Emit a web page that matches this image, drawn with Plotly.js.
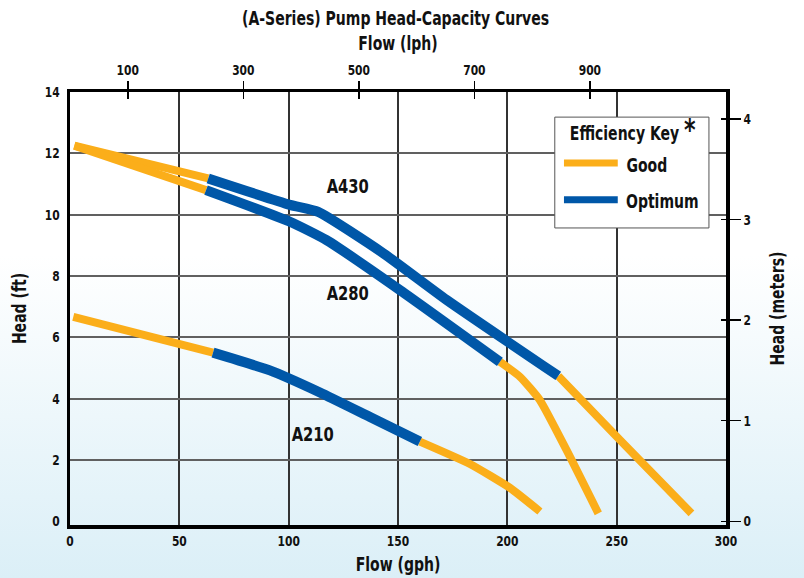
<!DOCTYPE html>
<html>
<head>
<meta charset="utf-8">
<script src="https://cdn.plot.ly/plotly-3.0.1.min.js"></script>
<style>
  html, body { margin: 0; padding: 0; }
  body {
    width: 804px; height: 578px; overflow: hidden;
    background: linear-gradient(to bottom, #ffffff 0%, #ffffff 44%, #dbeff7 100%);
  }
  #chart { width: 804px; height: 578px; }
</style>
</head>
<body>
<div id="chart"></div>
<script>
// ---- Data (flow in gph, head in ft) ----
const FT_PER_M = 3.2808;
const LPH_PER_GPH = 3.7854;

// A430
const a430GoodX1 = [2, 63.2];
const a430GoodY1 = [12.25, 11.18];
const a430OptX = [63.2, 100.6, 113.5, 143.3, 172.2, 223.3];
const a430OptY = [11.18, 10.32, 10.09, 8.74, 7.22, 4.74];
const a430GoodX2 = [223.3, 251.5, 284.2];
const a430GoodY2 = [4.74, 2.65, 0.26];

// A280
const a280GoodX1 = [2, 62.2];
const a280GoodY1 = [12.25, 10.8];
const a280OptX = [62.2, 100.6, 117.3, 150.9, 196.6];
const a280OptY = [10.8, 9.77, 9.17, 7.54, 5.2];
const a280GoodX2 = [196.6, 205.8, 214.9, 227.1, 241.6];
const a280GoodY2 = [5.2, 4.71, 3.95, 2.32, 0.26];

// A210
const a210GoodX1 = [1.5, 65.4];
const a210GoodY1 = [6.67, 5.5];
const a210OptX = [65.4, 91.4, 114.3, 137.2, 160];
const a210OptY = [5.5, 4.92, 4.2, 3.4, 2.6];
const a210GoodX2 = [160, 182.9, 201.2, 214.9];
const a210GoodY2 = [2.6, 1.87, 1.09, 0.32];

// Curve labels
const labelNames = ['A430', 'A280', 'A210'];
const labelX = [127, 127, 111];
const labelY = [10.93, 7.44, 2.86];

// Axis ticks
const gphTicks = [0, 50, 100, 150, 200, 250, 300];
const ftTicks = [0, 2, 4, 6, 8, 10, 12, 14];
const ftGrid = [2, 4, 6, 8, 10, 12];
const lphTicks = [100, 300, 500, 700, 900];
const mTicks = [0, 1, 2, 3, 4];

const GOOD = '#fbae1a';
const OPT = '#0057a8';
const FONT = '"Liberation Sans Narrow", "DejaVu Sans Condensed", "DejaVu Sans", sans-serif';
const SQUEEZE = 0.82;   // emulate the condensed typeface of the original

const yMin = -0.12, yMax = 14;
const xMin = 0, xMax = 300;

function seg(x, y, color, width) {
  return { x: x, y: y, type: 'scatter', mode: 'lines', xaxis: 'x', yaxis: 'y',
           line: { color: color, width: width, shape: 'spline', smoothing: 0.5 },
           hoverinfo: 'skip', showlegend: false };
}

const traces = [
  seg(a430GoodX1, a430GoodY1, GOOD, 8),
  seg(a280GoodX1, a280GoodY1, GOOD, 8),
  seg(a210GoodX1, a210GoodY1, GOOD, 8),
  seg(a430GoodX2, a430GoodY2, GOOD, 8),
  seg(a280GoodX2, a280GoodY2, GOOD, 8),
  seg(a210GoodX2, a210GoodY2, GOOD, 8),
  seg(a430OptX, a430OptY, OPT, 10),
  seg(a280OptX, a280OptY, OPT, 10),
  seg(a210OptX, a210OptY, OPT, 10),
  // dummy traces to activate secondary axes
  { x: [null], y: [null], xaxis: 'x2', yaxis: 'y', type: 'scatter', showlegend: false, hoverinfo: 'skip' },
  { x: [null], y: [null], xaxis: 'x3', yaxis: 'y', type: 'scatter', showlegend: false, hoverinfo: 'skip' },
  { x: [null], y: [null], xaxis: 'x', yaxis: 'y2', type: 'scatter', showlegend: false, hoverinfo: 'skip' },
  { x: [null], y: [null], xaxis: 'x', yaxis: 'y3', type: 'scatter', showlegend: false, hoverinfo: 'skip' },
  { x: [null], y: [null], xaxis: 'x', yaxis: 'y4', type: 'scatter', showlegend: false, hoverinfo: 'skip' }
];

const tickFont = { family: FONT, size: 14.5, color: '#111', weight: 700 };
const titleFont = { family: FONT, size: 19, color: '#111', weight: 700 };

const annotations = labelNames.map((t, i) => ({
  x: labelX[i], y: labelY[i], xref: 'x', yref: 'y', text: '<b>' + t + '</b>',
  showarrow: false, xanchor: 'center', yanchor: 'middle', font: { family: FONT, size: 20, color: '#111' }
}));

// Custom legend (Efficiency Key)
annotations.push(
  { xref: 'paper', yref: 'paper', x: 0.8575, y: 0.914, xanchor: 'center', yanchor: 'middle',
    text: '<b>Efficiency Key\u00a0</b><span style="font-size:30px"><b>*</b></span>', showarrow: false,
    font: { family: FONT, size: 19, color: '#111' } },
  { xref: 'paper', yref: 'paper', x: 0.8796, y: 0.831, xanchor: 'center', yanchor: 'middle',
    text: '<b>Good</b>', showarrow: false, font: { family: FONT, size: 19, color: '#111' } },
  { xref: 'paper', yref: 'paper', x: 0.9025, y: 0.749, xanchor: 'center', yanchor: 'middle',
    text: '<b>Optimum</b>', showarrow: false, font: { family: FONT, size: 19, color: '#111' } }
);

const shapes = [
  { type: 'rect', xref: 'paper', yref: 'paper', x0: 0.739, x1: 0.974, y0: 0.686, y1: 0.942,
    fillcolor: '#ffffff', line: { color: '#555', width: 1 }, layer: 'above' },
  { type: 'line', xref: 'paper', yref: 'paper', x0: 0.753, x1: 0.835, y0: 0.836, y1: 0.836,
    line: { color: GOOD, width: 7 }, layer: 'above' },
  { type: 'line', xref: 'paper', yref: 'paper', x0: 0.753, x1: 0.835, y0: 0.751, y1: 0.751,
    line: { color: OPT, width: 7 }, layer: 'above' }
];

const layout = {
  width: 804, height: 578,
  margin: { l: 70, r: 78, t: 92, b: 53 },
  paper_bgcolor: 'rgba(0,0,0,0)',
  plot_bgcolor: 'rgba(0,0,0,0)',
  showlegend: false,
  title: { text: '<b>(A-Series) Pump Head-Capacity Curves</b>', x: 0.492, xanchor: 'center',
           yref: 'container', y: 1 - 18 / 578, yanchor: 'middle',
           font: { family: FONT, size: 19, color: '#111' } },
  xaxis: {
    range: [xMin, xMax], tickvals: gphTicks, showgrid: true, gridcolor: '#333', gridwidth: 2,
    zeroline: false, showline: true, linecolor: '#000', linewidth: 3.5, ticks: '', tickfont: tickFont,
    title: { text: '<b>Flow (gph)</b>', font: titleFont, standoff: 11 }
  },
  xaxis2: {
    overlaying: 'x', side: 'top', range: [xMin * LPH_PER_GPH, xMax * LPH_PER_GPH], tickvals: lphTicks,
    showgrid: false, zeroline: false, showline: true, linecolor: '#000', linewidth: 3.5,
    ticks: 'outside', ticklen: 8, tickwidth: 1.5, tickcolor: '#000', tickfont: tickFont,
    title: { text: '<b>Flow (lph)</b>', font: titleFont, standoff: 7 }
  },
  xaxis3: {
    overlaying: 'x', side: 'top', range: [xMin * LPH_PER_GPH, xMax * LPH_PER_GPH], tickvals: lphTicks,
    showgrid: false, zeroline: false, showline: false, showticklabels: false,
    ticks: 'inside', ticklen: 7, tickwidth: 1.5, tickcolor: '#000'
  },
  yaxis: {
    range: [yMin, yMax], tickvals: ftTicks, showgrid: false, zeroline: false,
    showline: true, linecolor: '#000', linewidth: 3.5, ticks: '', tickfont: tickFont,
    ticklabelstandoff: 4,
    title: { text: '<b>Head (ft)</b>', font: titleFont, standoff: 11 }
  },
  yaxis4: {
    overlaying: 'y', range: [yMin, yMax], tickvals: ftGrid, showgrid: true, gridcolor: '#606060',
    gridwidth: 2, zeroline: false, showline: false, showticklabels: false, ticks: ''
  },
  yaxis2: {
    overlaying: 'y', side: 'right', range: [yMin / FT_PER_M, yMax / FT_PER_M], tickvals: mTicks,
    showgrid: false, zeroline: false, showline: true, linecolor: '#000', linewidth: 3.5,
    ticks: 'outside', ticklen: 11, tickwidth: 1.5, tickcolor: '#000', tickfont: tickFont,
    title: { text: '<b>Head (meters)</b>', font: titleFont, standoff: 20 }
  },
  yaxis3: {
    overlaying: 'y', side: 'right', range: [yMin / FT_PER_M, yMax / FT_PER_M], tickvals: mTicks,
    showgrid: false, zeroline: false, showline: false, showticklabels: false,
    ticks: 'inside', ticklen: 5, tickwidth: 1.5, tickcolor: '#000'
  },
  annotations: annotations,
  shapes: shapes
};

Plotly.newPlot('chart', traces, layout, { displayModeBar: false, staticPlot: true }).then(function () {
  // Narrow every text horizontally so it resembles the condensed face of the original.
  document.querySelectorAll('#chart svg text').forEach(function (t) {
    const len = t.getComputedTextLength();
    if (len > 0) {
      t.setAttribute('textLength', (len * SQUEEZE).toFixed(2));
      t.setAttribute('lengthAdjust', 'spacingAndGlyphs');
    }
  });
});
</script>
</body>
</html>
